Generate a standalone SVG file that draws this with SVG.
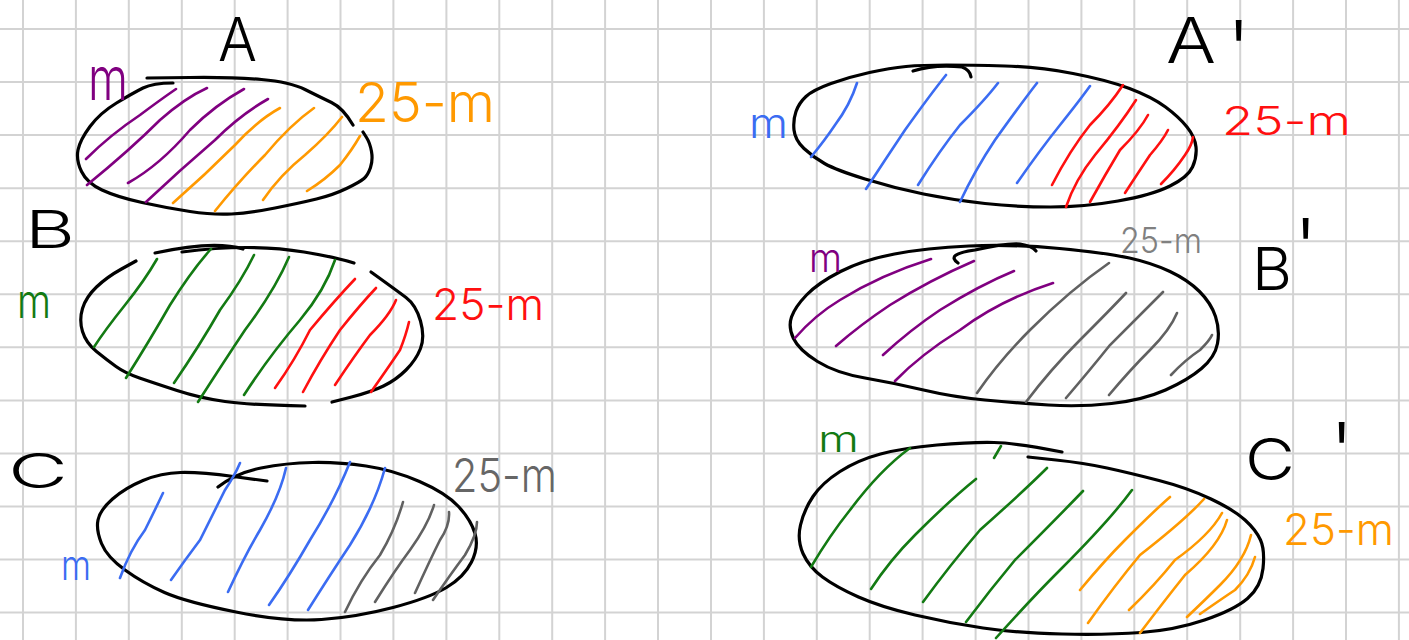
<svg xmlns="http://www.w3.org/2000/svg" width="1409" height="640" viewBox="0 0 1409 640">
<style>
.grid{stroke:#d3d3d3;stroke-width:2;fill:none}
.ol{fill:none;stroke:#000;stroke-width:3.2;stroke-linecap:round;stroke-linejoin:round}
.h{fill:none;stroke-width:2.6;stroke-linecap:round}
.purple{stroke:#800080}.orange{stroke:#ff9900}.green{stroke:#137a13}.red{stroke:#ff1010}.blue{stroke:#3b6cf2}.gray{stroke:#616161}
text{font-family:"Inter","Liberation Sans",sans-serif;font-weight:300}
.tb{fill:#000}.tpurple{fill:#800080}.torange{fill:#ff9900}.tgreen{fill:#137a13}.tred{fill:#ff1010}.tblue{fill:#3b6cf2}.tgray{fill:#666}.tgray2{fill:#808080}
</style>
<rect width="1409" height="640" fill="#fff"/>
<g id="grid">
<path class="grid" d="M23 0V640M75.9 0V640M128.8 0V640M181.8 0V640M234.7 0V640M287.6 0V640M340.5 0V640M393.4 0V640M446.4 0V640M499.3 0V640M552.2 0V640M605.1 0V640M658 0V640M711 0V640M763.9 0V640M816.8 0V640M869.7 0V640M922.6 0V640M975.6 0V640M1028.5 0V640M1081.4 0V640M1134.3 0V640M1187.2 0V640M1240.2 0V640M1293.1 0V640M1346 0V640M1398.9 0V640M0 29H1409M0 82H1409M0 135.1H1409M0 188.2H1409M0 241.2H1409M0 294.3H1409M0 347.3H1409M0 400.4H1409M0 453.4H1409M0 506.5H1409M0 559.5H1409M0 612.6H1409"/>
</g>
<g id="connectors"/>
<g id="node-A">
<path class="ol" d="M147 78 L190 77.5 Q233 77 261.5 79.5 Q290 82 305 89.5 Q320 97 331.5 102.5 Q343 108 353 125"/>
<path class="ol" d="M363 132 L366.5 137.5 Q370 143 371.5 151.5 Q373 160 370.5 167.5 Q368 175 364 178.5 Q360 182 346.5 188.5 Q333 195 316.5 199 Q300 203 275 208 Q250 213 231.5 214 Q213 215 190 211.5 Q167 208 142 202.5 Q117 197 102 190 Q87 183 81.5 171.5 Q76 160 78 150 Q80 140 90 126.5 Q100 113 116.5 103 Q133 93 143 88 Q153 83 173 83"/>
<path class="h purple" d="M86 159 Q110 135 140 115 Q160 100 176 89 M87 185 Q130 150 160 120 Q185 98 207 88 M128 183 Q160 165 190 130 Q215 105 244 89 M146 202 Q180 170 215 140 Q240 115 268 99"/>
<path class="h orange" d="M173 203 Q205 175 235 145 Q258 120 280 108 M215 211 Q240 180 265 155 Q290 125 314 108 M263 200 Q280 175 305 155 Q328 135 342 117 M307 191 Q325 180 340 165 Q352 150 360 136"/>
<text class="tb" x="218" y="61" font-size="61" textLength="39" lengthAdjust="spacingAndGlyphs">A</text>
<text class="tpurple" x="88" y="100" font-size="60" textLength="40" lengthAdjust="spacingAndGlyphs">m</text>
<text class="torange" x="355" y="122" font-size="55" textLength="140" lengthAdjust="spacingAndGlyphs">25-m</text>
</g>
<g id="node-B">
<path class="ol" d="M136 261 L121.5 269 Q107 277 96.5 287 Q86 297 82.5 308.5 Q79 320 82.5 331.5 Q86 343 96.5 351.5 Q107 360 116 366.5 Q125 373 139.5 378 Q154 383 177 390.5 Q200 398 225 401.5 Q250 405 305 406"/>
<path class="ol" d="M332 402 L351.5 397 Q371 392 383.5 386 Q396 380 406 370 Q416 360 420.5 348.5 Q425 337 420.5 321 Q416 305 406 297.5 Q396 290 371 272"/>
<path class="ol" d="M155 253 Q214 240 243 249"/>
<path class="ol" d="M182 252 Q250 243 304 252 Q335 257 354 263"/>
<path class="h green" d="M94 347 Q105 330 125 305 Q145 280 157 259 M126 378 Q150 340 170 305 Q192 270 211 249 M174 383 Q200 345 220 310 Q242 280 254 255 M198 402 Q225 360 245 330 Q275 290 289 257 M244 395 Q270 355 300 320 Q325 290 335 260"/>
<path class="h red" d="M275 388 Q295 360 310 330 Q335 300 355 279 M303 392 Q320 360 340 330 Q360 305 376 288 M335 385 Q355 355 370 335 Q390 315 396 300 M371 392 Q390 365 400 350 Q406 335 409 322"/>
<text class="tb" x="25" y="248" font-size="52" textLength="50" lengthAdjust="spacingAndGlyphs">B</text>
<text class="tgreen" x="17" y="318" font-size="48" textLength="34" lengthAdjust="spacingAndGlyphs">m</text>
<text class="tred" x="432" y="320" font-size="44" textLength="112" lengthAdjust="spacingAndGlyphs">25-m</text>
</g>
<g id="node-C">
<path class="ol" d="M267 481 L233.5 476.5 Q200 472 180.5 472.5 Q161 473 143 480.5 Q125 488 112.5 499 Q100 510 98 520 Q96 530 101.5 543.5 Q107 557 125 570 Q143 583 164.5 592.5 Q186 602 236 612 Q286 622 321.5 619.5 Q357 617 393 607.5 Q429 598 446.5 587.5 Q464 577 471.5 562 Q479 547 475 533.5 Q471 520 458.5 506.5 Q446 493 419.5 481.5 Q393 470 366 466 Q339 462 312.5 462.5 Q286 463 261 468 Q236 473 218 487"/>
<path class="h blue" d="M120 578 Q130 550 145 530 Q155 510 163 493 M171 580 Q185 560 200 540 Q215 510 225 490 Q235 475 240 463 M228 592 Q245 555 260 530 Q280 495 286 468 M269 605 Q290 575 310 540 Q335 500 350 462 M308 610 Q330 575 350 545 Q375 505 385 468"/>
<path class="h gray" d="M345 612 Q360 580 380 555 Q395 530 403 502 M375 602 Q395 570 410 550 Q428 525 434 505 M415 593 Q430 560 440 540 Q450 525 449 512 M433 600 Q450 575 465 555 Q477 535 477 522"/>
<text class="tb" x="8" y="488" font-size="48" textLength="60" lengthAdjust="spacingAndGlyphs">C</text>
<text class="tgray" x="452" y="492" font-size="47" textLength="105" lengthAdjust="spacingAndGlyphs">25-m</text>
<text class="tblue" x="61" y="580" font-size="42" textLength="30" lengthAdjust="spacingAndGlyphs">m</text>
</g>
<g id="node-A2">
<path class="ol" d="M806 96.5 Q813 90 831 83.5 Q849 77 869.5 72.5 Q890 68 906 66.5 Q922 65 946.5 65 Q971 65 1005 66 Q1039 67 1073 73.5 Q1107 80 1129.5 88.5 Q1152 97 1165.5 107 Q1179 117 1187 127 Q1195 137 1196 147 Q1197 157 1192.5 167 Q1188 177 1170 186 Q1152 195 1118 201 Q1084 207 1050.5 207 Q1017 207 985 203.5 Q953 200 923.5 194 Q894 188 865 179 Q836 170 824.5 163.5 Q813 157 804 148.5 Q795 140 794 130 Q793 120 796 111.5 Q799 103 806 96.5 Z"/>
<path class="ol" d="M913 71 Q935 64 962 67 Q970 70 971 77"/>
<path class="h blue" d="M811 157 Q825 140 835 125 Q850 105 857 83 M866 189 Q885 160 905 130 Q930 95 946 75 M918 185 Q940 150 960 125 Q985 100 998 83 M960 202 Q975 170 995 140 Q1020 105 1037 83 M1017 183 Q1040 150 1060 125 Q1080 100 1090 86"/>
<path class="h red" d="M1052 185 Q1070 150 1090 125 Q1110 105 1123 85 M1066 207 Q1075 180 1095 155 Q1120 125 1136 100 M1090 202 Q1105 175 1120 150 Q1140 130 1148 115 M1125 193 Q1140 170 1150 155 Q1163 140 1168 130 M1161 184 Q1175 170 1185 155 Q1192 145 1193 137"/>
<text class="tb" x="1166" y="63" font-size="63"><tspan textLength="50" lengthAdjust="spacingAndGlyphs">A</tspan><tspan x="1227" y="78" font-size="80">'</tspan></text>
<text class="tblue" x="749" y="138" font-size="42" textLength="39" lengthAdjust="spacingAndGlyphs">m</text>
<text class="tred" x="1222" y="135" font-size="39" textLength="129" lengthAdjust="spacingAndGlyphs">25-m</text>
</g>
<g id="node-B2">
<path class="ol" d="M969 246 Q1012 244 1059.5 248.5 Q1107 253 1129.5 258 Q1152 263 1170 271.5 Q1188 280 1199.5 291.5 Q1211 303 1215.5 316.5 Q1220 330 1217.5 343.5 Q1215 357 1201.5 368.5 Q1188 380 1165.5 390 Q1143 400 1111.5 403.5 Q1080 407 1048.5 405 Q1017 403 985 400 Q953 397 923.5 390 Q894 383 865 378 Q836 373 817.5 361.5 Q799 350 793.5 338.5 Q788 327 791.5 317 Q795 307 806.5 295 Q818 283 840.5 271.5 Q863 260 894.5 254 Q926 248 969 246 Z"/>
<path class="ol" d="M958 263 Q945 254 975 250 Q1005 243 1020 244 Q1032 246 1036 251"/>
<path class="h purple" d="M795 338 Q815 315 840 300 Q880 275 931 259 M836 346 Q860 325 890 305 Q930 280 974 261 M883 355 Q910 330 940 310 Q980 285 1014 271 M895 381 Q920 355 960 330 Q1000 300 1053 283"/>
<path class="h gray" d="M977 393 Q1000 360 1030 330 Q1070 290 1109 263 M1026 402 Q1050 370 1080 340 Q1110 310 1126 293 M1066 398 Q1090 370 1110 345 Q1140 315 1163 292 M1109 395 Q1130 370 1150 350 Q1170 330 1177 313 M1171 375 Q1185 360 1200 350 Q1210 340 1212 335"/>
<text class="tgray2" x="1120" y="253" font-size="35" textLength="82" lengthAdjust="spacingAndGlyphs">25-m</text>
<text class="tb" x="1252" y="290" font-size="59"><tspan textLength="40" lengthAdjust="spacingAndGlyphs">B</tspan><tspan x="1294" y="276" font-size="80">'</tspan></text>
<text class="tpurple" x="809" y="272" font-size="40" textLength="33" lengthAdjust="spacingAndGlyphs">m</text>
</g>
<g id="node-C2">
<path class="ol" d="M1028 457 L1056 460 Q1084 463 1107 468 Q1130 473 1159 480.5 Q1188 488 1211 499 Q1234 510 1245 520 Q1256 530 1260.5 540 Q1265 550 1263 568.5 Q1261 587 1247.5 598.5 Q1234 610 1204.5 620 Q1175 630 1141 632.5 Q1107 635 1062 634 Q1017 633 983 628 Q949 623 915 615 Q881 607 858.5 597 Q836 587 822.5 577 Q809 567 803 553.5 Q797 540 800.5 525 Q804 510 813 496.5 Q822 483 840 471.5 Q858 460 880.5 454 Q903 448 937 445 Q971 442 994 442.5 Q1017 443 1062 452"/>
<path class="h green" d="M811 567 Q830 535 850 510 Q880 470 910 448 M871 589 Q890 560 915 535 Q950 500 976 479 M923 602 Q950 565 980 530 Q1025 490 1047 468 M966 622 Q990 590 1015 560 Q1060 515 1083 491 M996 638 Q1030 600 1060 570 Q1110 520 1132 490 M994 458 L1001 446"/>
<path class="h orange" d="M1080 590 Q1105 560 1125 540 Q1155 510 1170 497 M1088 623 Q1115 585 1140 555 Q1185 520 1204 499 M1129 610 Q1155 585 1175 560 Q1210 535 1222 513 M1140 633 Q1165 600 1185 575 Q1220 545 1227 520 M1187 617 Q1205 600 1220 585 Q1245 560 1251 535 M1200 614 Q1220 600 1235 590 Q1250 575 1255 557"/>
<text class="tb" x="1245" y="480" font-size="58"><tspan textLength="50" lengthAdjust="spacingAndGlyphs">C</tspan><tspan x="1330" y="480" font-size="80">'</tspan></text>
<text class="tgreen" x="818" y="452" font-size="37" textLength="41" lengthAdjust="spacingAndGlyphs">m</text>
<text class="torange" x="1283" y="545" font-size="44" textLength="111" lengthAdjust="spacingAndGlyphs">25-m</text>
</g>
</svg>
